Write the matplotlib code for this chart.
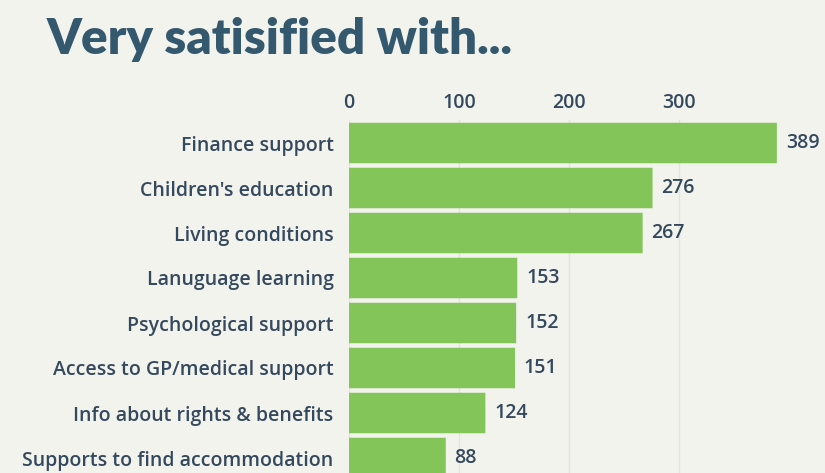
import matplotlib.pyplot as plt
from matplotlib.patches import FancyBboxPatch

# Very satisfied counts
categories = ["Finance support", "Children's education", "Living conditions",
              "Lanuguage learning", "Psychological support",
              "Access to GP/medical support", "Info about rights & benefits",
              "Supports to find accommodation"]
counts = [389, 276, 267, 153, 152, 151, 124, 88]
ticks = [0, 100, 200, 300]

bg = "#f3f3ee"
green = "#84c55a"
txt = "#34495e"

fig = plt.figure(figsize=(8.25, 4.73), dpi=100, facecolor=bg)
W, H = 825, 473
# axes from x=0 at px 349 to right edge, top at px 120 to bottom edge
ax = fig.add_axes([349 / W, 0, 1 - 349 / W, 1 - 120 / H], facecolor=bg)

pos = list(range(len(categories)))
bars = ax.barh(pos, counts, height=0.9, color=green, zorder=2)
ax.set_xlim(0, (825 - 349) / 1.1)
ax.set_ylim((473 - 143) / 45, (120 - 143) / 45)

# rounded look
for b in bars:
    b.set_visible(False)
    p = FancyBboxPatch((b.get_x(), b.get_y()), b.get_width(), b.get_height(),
                       boxstyle="round,pad=0,rounding_size=0.04",
                       mutation_aspect=45 / 1.1 / 45 * 45 / 1.1,
                       facecolor=green, edgecolor="none", zorder=2)
    ax.add_patch(p)

for y, v in zip(pos, counts):
    ax.text(v + 8, y, str(v), va="center", ha="left", fontsize=14,
            color=txt, fontweight="semibold", family="Open Sans", clip_on=False)

ax.set_yticks(pos)
ax.set_yticklabels(categories, fontsize=14, color=txt, family="Open Sans",
                   fontweight="semibold")
ax.set_xticks(ticks)
ax.xaxis.tick_top()
ax.tick_params(axis="x", length=0, pad=5, labelsize=14, labelcolor=txt)
ax.tick_params(axis="y", length=0, pad=11)
for lab in ax.get_xticklabels():
    lab.set_family("Open Sans")
    lab.set_fontweight("semibold")
ax.grid(axis="x", color="#e4e4de", linewidth=1, zorder=0)
for s in ax.spines.values():
    s.set_visible(False)

fig.text(47 / W, 1 - 39 / H, "Very satisified with...", fontsize=35.5,
         fontweight="heavy", color="#34596f", family="Lato", va="center", ha="left")

fig.savefig("out.png", dpi=100, facecolor=bg)
